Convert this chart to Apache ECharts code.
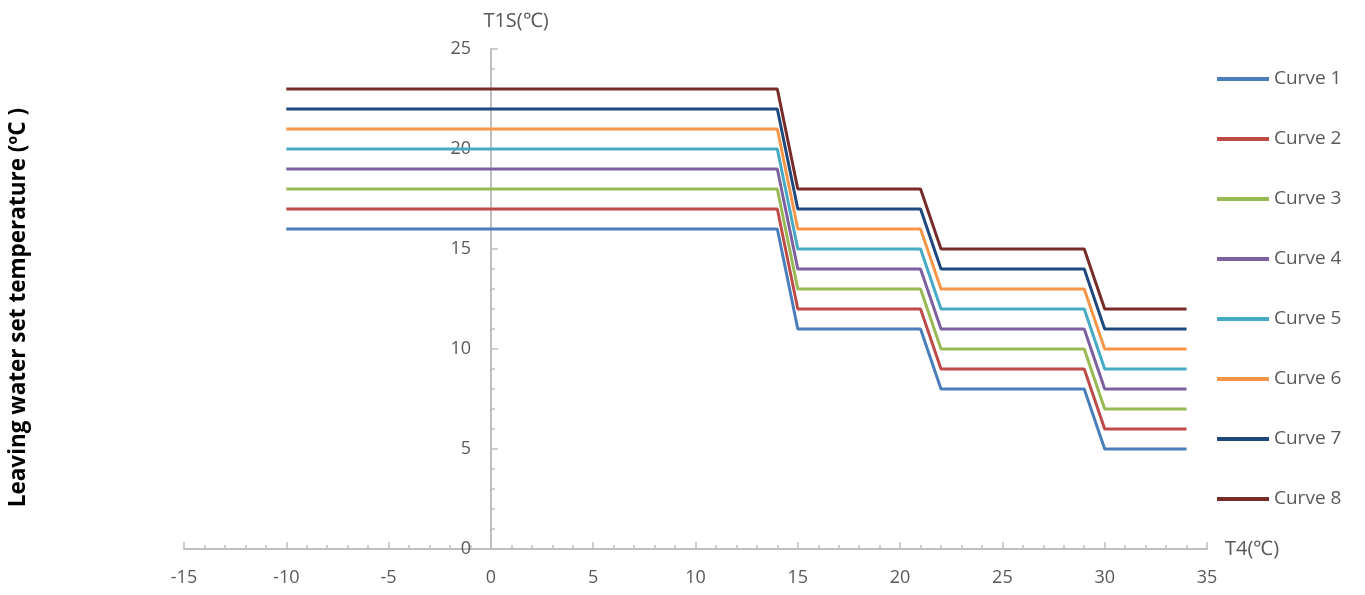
<!DOCTYPE html>
<html>
<head>
<meta charset="utf-8">
<script src="https://cdn.jsdelivr.net/npm/echarts@6/dist/echarts.min.js"></script>
<style>
  html, body { margin: 0; padding: 0; background: #fff; }
  #main { width: 1365px; height: 595px; }
</style>
</head>
<body>
<div id="main"></div>
<script>
// break points of T4 (ambient)
var t4 = [-10, 14, 15, 21, 22, 29, 30, 34];
// leaving water set temperature per curve
var curve1 = [16, 16, 11, 11, 8, 8, 5, 5];
var curve2 = [17, 17, 12, 12, 9, 9, 6, 6];
var curve3 = [18, 18, 13, 13, 10, 10, 7, 7];
var curve4 = [19, 19, 14, 14, 11, 11, 8, 8];
var curve5 = [20, 20, 15, 15, 12, 12, 9, 9];
var curve6 = [21, 21, 16, 16, 13, 13, 10, 10];
var curve7 = [22, 22, 17, 17, 14, 14, 11, 11];
var curve8 = [23, 23, 18, 18, 15, 15, 12, 12];
var names = ['Curve 1', 'Curve 2', 'Curve 3', 'Curve 4', 'Curve 5', 'Curve 6', 'Curve 7', 'Curve 8'];
var colors = ['#4A7EBB', '#BE4B48', '#98B954', '#7D60A0', '#46AAC5', '#F79646', '#1F497D', '#772C2A'];

var curves = [curve1, curve2, curve3, curve4, curve5, curve6, curve7, curve8];
var series = curves.map(function (c, i) {
  return {
    name: names[i],
    type: 'line',
    symbol: 'none',
    data: t4.map(function (x, j) { return [x, c[j]]; }),
    lineStyle: { width: 3, color: colors[i] },
    itemStyle: { color: colors[i] }
  };
});

var chart = echarts.init(document.getElementById('main'));
chart.setOption({
  animation: false,
  color: colors,
  grid: { left: 184, right: 158, top: 49, bottom: 46 },
  legend: {
    orient: 'vertical',
    left: 1212,
    top: 64,
    icon: 'rect',
    itemWidth: 52,
    itemHeight: 4,
    itemGap: 40,
    textStyle: { fontFamily: 'Open Sans', fontSize: 19, color: '#595959', lineHeight: 20 },
    data: names
  },
  xAxis: {
    type: 'value',
    min: -15, max: 35, interval: 5,
    name: 'T4(℃)',
    nameLocation: 'end',
    nameGap: 18,
    nameTextStyle: { fontFamily: 'Open Sans', fontSize: 20, color: '#595959', padding: [20, 0, 0, 0] },
    axisLine: { onZero: true, lineStyle: { color: '#BFBFBF', width: 2 } },
    axisTick: { show: true, inside: true, length: 7, lineStyle: { color: '#BFBFBF', width: 1.5 } },
    minorTick: { show: true, splitNumber: 5, length: 4, lineStyle: { color: '#BFBFBF', width: 1.5 } },
    splitLine: { show: false },
    axisLabel: { fontFamily: 'Open Sans', fontSize: 18, color: '#595959', margin: 20 }
  },
  yAxis: {
    type: 'value',
    min: 0, max: 25, interval: 5,
    offset: -307,
    name: 'T1S(℃)',
    nameLocation: 'end',
    nameGap: 18,
    nameTextStyle: { fontFamily: 'Open Sans', fontSize: 20, color: '#595959', padding: [0, 0, 0, 50] },
    axisLine: { show: true, onZero: false, lineStyle: { color: '#BFBFBF', width: 2 } },
    axisTick: { show: true, inside: true, length: 7, lineStyle: { color: '#BFBFBF', width: 1.5 } },
    minorTick: { show: true, splitNumber: 5, length: 4, lineStyle: { color: '#BFBFBF', width: 1.5 } },
    splitLine: { show: false },
    axisLabel: { fontFamily: 'Open Sans', fontSize: 18, color: '#595959', margin: 20 }
  },
  graphic: [{
    type: 'text',
    left: 7,
    top: 108,
    rotation: Math.PI / 2,
    style: {
      text: 'Leaving water set temperature (ºC )',
      fontFamily: 'Open Sans',
      fontWeight: 'bold',
      fontSize: 22.5,
      fill: '#000'
    }
  }],
  series: series
});
</script>
</body>
</html>
